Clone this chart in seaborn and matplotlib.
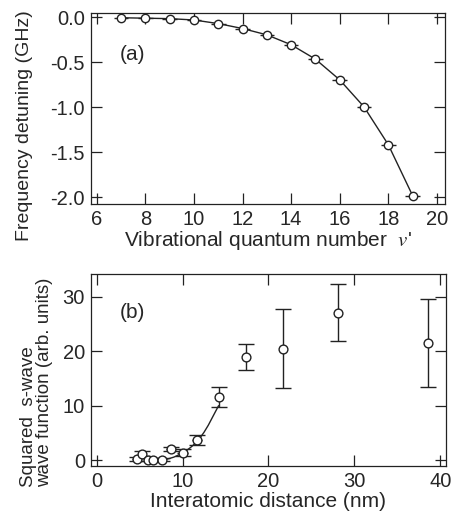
import numpy as np
import pandas as pd
import matplotlib
matplotlib.use("Agg")
import matplotlib.pyplot as plt
import seaborn as sns

# Panel (a): binding energies of vibrational levels
v_level = [7, 8, 9, 10, 11, 12, 13, 14, 15, 16, 17, 18, 19]
detuning = [-0.005, -0.01, -0.015, -0.03, -0.07, -0.125, -0.195, -0.305, -0.465, -0.695, -0.995, -1.415, -1.98]
v_err = [0.3] * 13

# Panel (b): squared s-wave wave function
distance = [4.66, 5.24, 5.94, 6.6, 7.57, 8.62, 10.0, 11.7, 14.2, 17.4, 21.7, 28.1, 38.6]
wavefn = [0.2, 1.2, 0.1, 0.1, 0.1, 2.0, 1.35, 3.7, 11.6, 18.9, 20.5, 27.1, 21.6]
wavefn_err = [0.3, 0.5, 0.2, 0.2, 0.2, 0.4, 0.6, 1.0, 1.8, 2.4, 7.3, 5.3, 8.1]
dist_err = [0.5, 0.4, 0.3, 0.3, 0.4, 0.5, 0.6, 0.6, 0.0, 0.0, 0.0, 0.0, 0.0]

# fitted curve
fit_x = [7.5, 8.0, 8.5, 9.0, 9.5, 10.0, 10.5, 11.0, 11.5, 12.0, 12.5, 13.0, 13.5, 14.2]
fit_y = [0.0, 0.1, 0.3, 0.55, 0.9, 1.3, 1.8, 2.4, 3.1, 4.0, 5.1, 6.4, 7.9, 10.0]

df_a = pd.DataFrame({"v": v_level, "det": detuning})
df_b = pd.DataFrame({"r": distance, "w": wavefn})
df_fit = pd.DataFrame({"r": fit_x, "w": fit_y})

sns.set_theme(style="ticks")
plt.rcParams["font.family"] = ["Liberation Sans", "DejaVu Sans"]
plt.rcParams["mathtext.fontset"] = "stix"
plt.rcParams["axes.linewidth"] = 0.9
plt.rcParams["axes.edgecolor"] = "#222222"

fs_tick = 14.5
fs_lab = 15
ink = "#222222"
fig = plt.figure(figsize=(4.53, 5.19), dpi=100)
ax1 = fig.add_axes([0.2, 0.607, 0.782, 0.368])
ax2 = fig.add_axes([0.2, 0.102, 0.785, 0.370])

# (a)
sns.lineplot(data=df_a, x="v", y="det", ax=ax1, color=ink, lw=1.0, sort=True)
ax1.errorbar(v_level, detuning, xerr=v_err, fmt="none", ecolor=ink, elinewidth=1.0)
sns.scatterplot(data=df_a, x="v", y="det", ax=ax1, marker="o", s=36,
                facecolor="white", edgecolor=ink, linewidth=1.0, zorder=5)
ax1.set_xlim(5.74, 20.33)
ax1.set_ylim(-2.074, 0.048)
ax1.set_xticks(range(6, 21, 2))
ax1.set_yticks([0.0, -0.5, -1.0, -1.5, -2.0])
ax1.set_yticklabels(["0.0", "-0.5", "-1.0", "-1.5", "-2.0"])
ax1.set_xlabel("Vibrational quantum number  $v$'", fontsize=fs_lab, labelpad=0)
ax1.set_ylabel("Frequency detuning (GHz)", fontsize=14)
ax1.yaxis.set_label_coords(-0.163, 0.41)
ax1.text(0.083, 0.78, "(a)", transform=ax1.transAxes, fontsize=fs_lab, va="center", ha="left")

# (b)
ax2.errorbar(distance, wavefn, yerr=wavefn_err, fmt="none",
             ecolor=ink, elinewidth=1.0, capsize=6, capthick=1.0)
ax2.errorbar(distance, wavefn, xerr=dist_err, fmt="none", ecolor=ink, elinewidth=1.0)
sns.lineplot(data=df_fit, x="r", y="w", ax=ax2, color=ink, lw=1.0)
sns.scatterplot(data=df_b, x="r", y="w", ax=ax2, marker="o", s=40,
                facecolor="white", edgecolor=ink, linewidth=1.0, zorder=5)
ax2.set_xlim(-0.7, 40.7)
ax2.set_ylim(-1.1, 34.2)
ax2.set_xticks([0, 10, 20, 30, 40])
ax2.set_yticks([0, 10, 20, 30])
ax2.set_xlabel("Interatomic distance (nm)", fontsize=fs_lab, labelpad=1)
ax2.set_ylabel("Squared  s-wave\nwave function (arb. units)", fontsize=13.5,
               linespacing=0.95, multialignment="left")
ax2.yaxis.set_label_coords(-0.106, 0.435)
ax2.text(0.083, 0.80, "(b)", transform=ax2.transAxes, fontsize=fs_lab, va="center", ha="left")

for ax in (ax1, ax2):
    ax.tick_params(direction="in", length=8, width=0.9, top=True, right=True,
                   labelsize=fs_tick, pad=4, color=ink)
    for s in ax.spines.values():
        s.set_visible(True)

fig.savefig("out.png", dpi=100)
plt.close(fig)
